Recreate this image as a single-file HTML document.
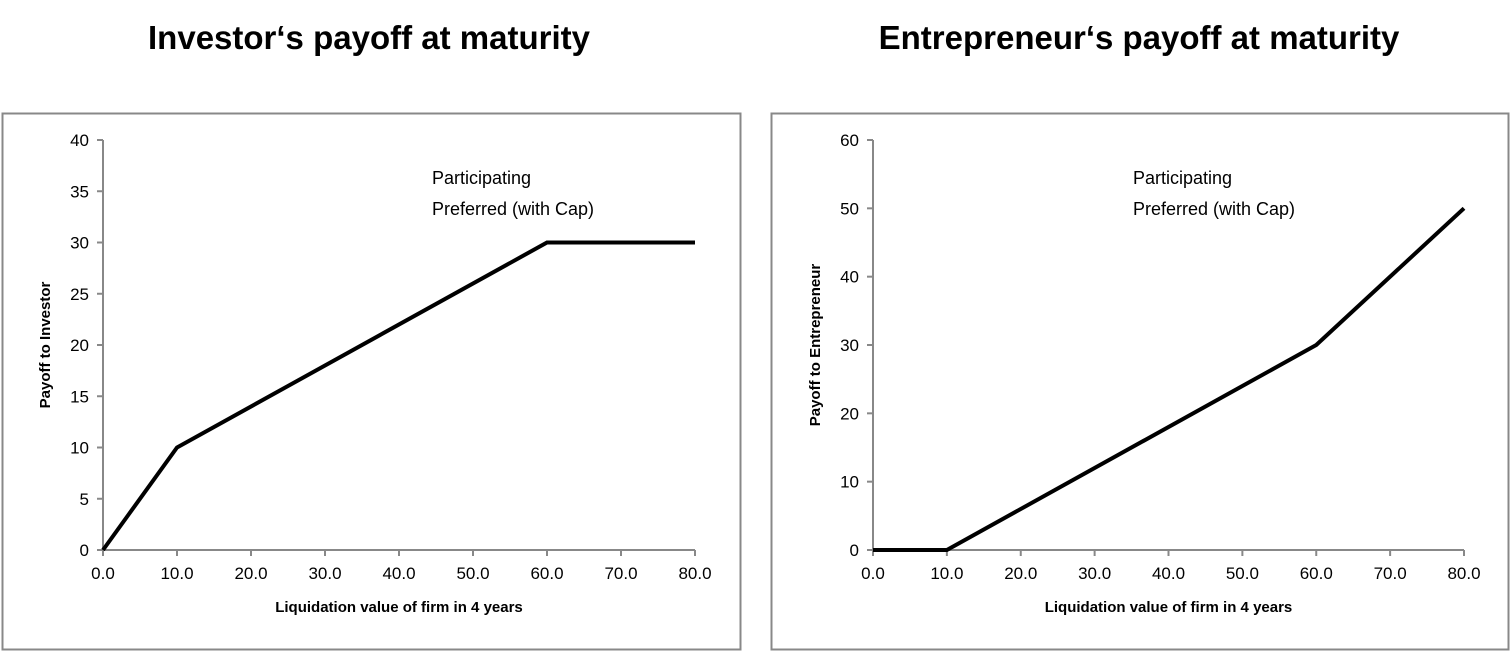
<!DOCTYPE html>
<html><head><meta charset="utf-8"><style>
body{margin:0;background:#fff;width:1511px;height:651px;overflow:hidden;font-family:"Liberation Sans",sans-serif}
</style></head><body>
<svg id="svg" width="1511" height="651" xmlns="http://www.w3.org/2000/svg">
<text x="369" y="49" text-anchor="middle" font-size="33" font-weight="bold">Investor‘s payoff at maturity</text>
<text x="1139" y="49" text-anchor="middle" font-size="33" font-weight="bold">Entrepreneur‘s payoff at maturity</text>
<rect x="2.5" y="113.5" width="738" height="536" fill="none" stroke="#888" stroke-width="2"/>
<rect x="771.5" y="113.5" width="737" height="536" fill="none" stroke="#888" stroke-width="2"/>
</svg>
<script>
const xTicks=[0,10,20,30,40,50,60,70,80];
const invX=[0,10,60,80];
const invY=[0,10,30,30];
const invYTicks=[0,5,10,15,20,25,30,35,40];
const entX=[0,10,60,80];
const entY=[0,0,30,50];
const entYTicks=[0,10,20,30,40,50,60];
const svg=document.getElementById('svg');
const NS='http://www.w3.org/2000/svg';
function mk(tag,attrs,name,text){const e=document.createElementNS(NS,tag);for(const k in attrs)e.setAttribute(k,attrs[k]);


if(text!==undefined)e.textContent=text;svg.appendChild(e);return e;}
function chart(p,xs,ys,yt,yTitle,prefix){
 const x0=p.x0,x1=p.x1,y0=550,y1=140,ymax=yt[yt.length-1];
 const sx=v=>x0+(v-0)/80*(x1-x0);
 const sy=v=>y0-(v/ymax)*(y0-y1);
 mk('line',{x1:x0,y1:y1,x2:x0,y2:y0,stroke:'#888','stroke-width':2},prefix+'-y-axis');
 mk('line',{x1:x0,y1:y0,x2:x1,y2:y0,stroke:'#888','stroke-width':2},prefix+'-x-axis');
 yt.forEach(t=>{mk('line',{x1:x0-6,y1:sy(t),x2:x0,y2:sy(t),stroke:'#888','stroke-width':2},prefix+'-y-tick');
  mk('text',{x:x0-14,y:sy(t)+6,'text-anchor':'end','font-size':17},prefix+'-y-tick-label',String(t));});
 xTicks.forEach(t=>{mk('line',{x1:sx(t),y1:y0,x2:sx(t),y2:y0+6,stroke:'#888','stroke-width':2},prefix+'-x-tick');
  mk('text',{x:sx(t),y:y0+29,'text-anchor':'middle','font-size':17},prefix+'-x-tick-label',t.toFixed(1));});
 mk('polyline',{points:xs.map((v,i)=>sx(v)+','+sy(ys[i])).join(' '),fill:'none',stroke:'#000','stroke-width':4},prefix+'-payoff-line');
 mk('text',{x:(x0+x1)/2,y:612,'text-anchor':'middle','font-size':15,'font-weight':'bold'},prefix+'-x-axis-title','Liquidation  value of firm in 4 years');
 mk('text',{x:0,y:0,'text-anchor':'middle','font-size':15,'font-weight':'bold',transform:`translate(${p.tx},345) rotate(-90)`},prefix+'-y-axis-title',yTitle);
 mk('text',{x:p.ax,y:184,'font-size':18},prefix+'-annotation-line1','Participating');
 mk('text',{x:p.ax,y:215,'font-size':18},prefix+'-annotation-line2','Preferred (with Cap)');
}
chart({x0:103,x1:695,tx:50,ax:432},invX,invY,invYTicks,'Payoff to Investor','investor');
chart({x0:873,x1:1464,tx:820,ax:1133},entX,entY,entYTicks,'Payoff to Entrepreneur','entrepreneur');
</script>
</body></html>
